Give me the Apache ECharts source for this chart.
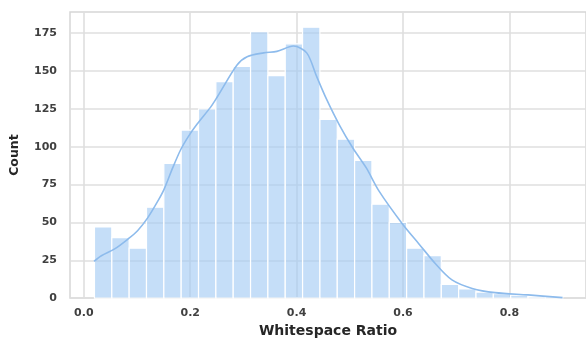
<!DOCTYPE html>
<html>
<head>
<meta charset="utf-8">
<script src="https://cdn.jsdelivr.net/npm/echarts@6/dist/echarts.min.js"></script>
<style>
  html, body { margin: 0; padding: 0; background: #ffffff; }
  #chart { width: 586px; height: 343px; }
</style>
</head>
<body>
<div id="chart"></div>
<script>
// Histogram of whitespace ratio: 27 equal-width bins starting at binStart
const binStart = 0.02;
const binWidth = 0.0326;
const binCounts = [47, 40, 33, 60, 89, 111, 125, 143, 153, 176, 147, 168, 179,
                   118, 105, 91, 62, 50, 33, 28, 9, 6, 4, 3, 2, 1, 1];

// Kernel density estimate, scaled to counts
const kdeX = [0.019, 0.033, 0.058, 0.083, 0.101, 0.120, 0.139, 0.151, 0.167, 0.182,
              0.197, 0.213, 0.238, 0.251, 0.288, 0.307, 0.338, 0.363, 0.394, 0.419,
              0.437, 0.456, 0.481, 0.506, 0.531, 0.555, 0.599, 0.630, 0.661, 0.692,
              0.730, 0.773, 0.835, 0.900];
const kdeY = [24.3, 28, 32.5, 39, 44.5, 53, 64, 72, 86, 98,
              107, 115, 126, 133, 154, 159.5, 162, 163, 166.5, 162,
              147, 131.6, 114, 99, 86, 70.7, 49, 35.8, 22.7, 12,
              6.4, 3.6, 2.1, 0.3];

const xTicks = [0, 0.2, 0.4, 0.6, 0.8];
const yTicks = [0, 25, 50, 75, 100, 125, 150, 175];

const binRows = binCounts.map((c, i) => [binStart + i * binWidth, binStart + (i + 1) * binWidth, c]);
const kdeRows = kdeX.map((x, i) => [x, kdeY[i]]);

const barFill = 'rgba(161, 201, 244, 0.62)';
const lineColor = '#8dbbec';
const gridColor = '#dfdfdf';
const font = 'DejaVu Sans';

const chart = echarts.init(document.getElementById('chart'), null, { renderer: 'canvas' });
chart.setOption({
  backgroundColor: '#ffffff',
  animation: false,
  grid: {
    left: 68, top: 12, right: -2, bottom: 40.5,
    show: true, borderColor: '#d6d6d6', borderWidth: 1.5, backgroundColor: 'transparent'
  },
  xAxis: {
    type: 'value', min: -0.026, max: 0.944,
    name: 'Whitespace Ratio', nameLocation: 'middle', nameGap: 25,
    nameTextStyle: { fontFamily: font, fontWeight: 'bold', fontSize: 14, color: '#262626' },
    axisLine: { show: false },
    axisTick: { show: false, customValues: xTicks },
    axisLabel: {
      customValues: xTicks, margin: 10,
      formatter: v => v.toFixed(1),
      fontFamily: font, fontWeight: 'bold', fontSize: 11, color: '#404040'
    },
    splitLine: { show: true, lineStyle: { color: gridColor, width: 1.6 } }
  },
  yAxis: {
    type: 'value', min: 0, max: 189,
    name: 'Count', nameLocation: 'middle', nameGap: 49, nameRotate: 90,
    nameTextStyle: { fontFamily: font, fontWeight: 'bold', fontSize: 12.5, color: '#262626' },
    axisLine: { show: false },
    axisTick: { show: false, customValues: yTicks },
    axisLabel: {
      customValues: yTicks, margin: 13,
      fontFamily: font, fontWeight: 'bold', fontSize: 11, color: '#404040'
    },
    splitLine: { show: true, lineStyle: { color: gridColor, width: 1.6 } }
  },
  series: [
    {
      type: 'custom',
      data: binRows,
      encode: { x: [0, 1], y: 2 },
      renderItem: function (params, api) {
        const top = api.coord([api.value(0), api.value(2)]);
        const base = api.coord([api.value(1), 0]);
        return {
          type: 'rect',
          shape: { x: top[0], y: top[1], width: base[0] - top[0], height: base[1] - top[1] },
          style: { fill: barFill, stroke: '#ffffff', lineWidth: 1.2 }
        };
      },
      z: 2
    },
    {
      type: 'line',
      data: kdeRows,
      smooth: 0.3,
      showSymbol: false,
      lineStyle: { color: lineColor, width: 1.6 },
      z: 3
    }
  ]
});
</script>
</body>
</html>
